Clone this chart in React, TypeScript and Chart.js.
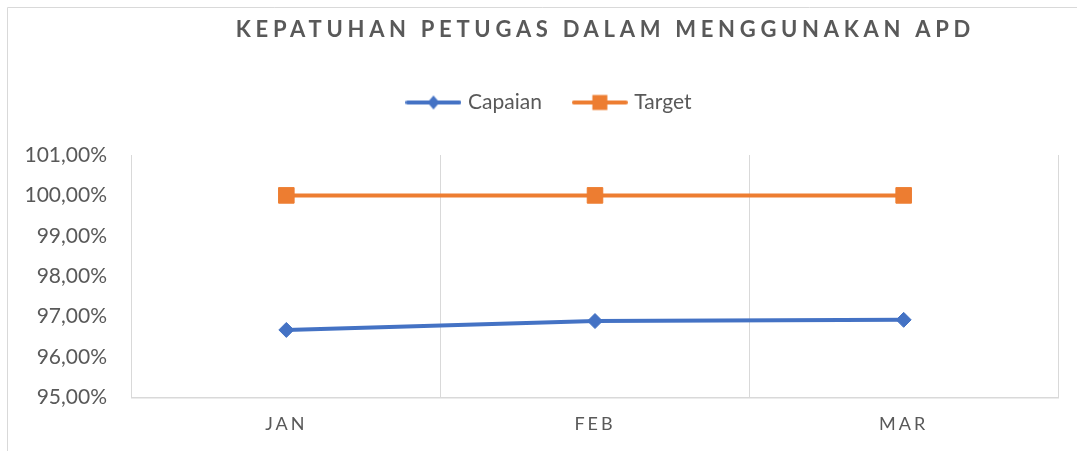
import React, { useEffect, useRef } from 'react';
import { Chart, registerables, CategoryScale } from 'chart.js';

Chart.register(...registerables);

class SpacedCategoryScale extends CategoryScale {
  static id = 'spacedCategory';
  drawLabels(area: any) {
    const ctx: any = this.ctx;
    ctx.save();
    ctx.letterSpacing = '3px';
    super.drawLabels(area);
    ctx.restore();
  }
}
Chart.register(SpacedCategoryScale as any);

const TITLE = 'KEPATUHAN PETUGAS DALAM MENGGUNAKAN APD';
const categories = ['JAN', 'FEB', 'MAR'];
const capaian = [96.67, 96.89, 96.92];
const target = [100, 100, 100];
const yMin = 95;
const yMax = 101;
const yStep = 1;

const FONT = "Lato, 'Open Sans', sans-serif";
const TEXT = '#595959';
const BLUE = '#4472C4';
const ORANGE = '#ED7D31';
const GRID = '#d9d9d9';

function makeIcon(color: string, shape: 'diamond' | 'square') {
  const c = document.createElement('canvas');
  c.width = 56;
  c.height = 20;
  const g = c.getContext('2d')!;
  g.strokeStyle = color;
  g.lineWidth = 4;
  g.lineCap = 'round';
  g.beginPath();
  g.moveTo(2, 10);
  g.lineTo(54, 10);
  g.stroke();
  g.fillStyle = color;
  g.beginPath();
  if (shape === 'diamond') {
    g.moveTo(28, 3);
    g.lineTo(34, 10);
    g.lineTo(28, 17);
    g.lineTo(22, 10);
    g.closePath();
  } else {
    g.rect(20.5, 2.5, 15, 15);
  }
  g.fill();
  return c;
}

const decorPlugin = {
  id: 'decor',
  afterLayout(chart: any) {
    if (chart.legend) {
      chart.legend.left = 43;
    }
  },
  afterDraw(chart: any) {
    const ctx = chart.ctx;
    ctx.save();
    ctx.strokeStyle = GRID;
    ctx.lineWidth = 1;
    ctx.beginPath();
    ctx.moveTo(7.5, 451);
    ctx.lineTo(7.5, 7.5);
    ctx.lineTo(1077, 7.5);
    ctx.stroke();
    ctx.font = `bold 22px ${FONT}`;
    ctx.letterSpacing = '4.7px';
    ctx.fillStyle = TEXT;
    ctx.textAlign = 'center';
    ctx.textBaseline = 'alphabetic';
    ctx.fillText(TITLE, 603 + 2.35, 37);
    ctx.restore();
  },
};

export default function App() {
  const ref = useRef<HTMLCanvasElement>(null);
  useEffect(() => {
    document.body.style.margin = '0';
    const icons = [makeIcon(BLUE, 'diamond'), makeIcon(ORANGE, 'square')];
    const chart = new Chart(ref.current!, {
      type: 'line',
      data: {
        labels: categories,
        datasets: [
          {
            label: 'Capaian',
            data: capaian,
            borderColor: BLUE,
            backgroundColor: BLUE,
            borderWidth: 4,
            borderCapStyle: 'round',
            borderJoinStyle: 'round',
            pointStyle: 'rectRot',
            pointRadius: 7.5,
            pointBorderWidth: 1,
            tension: 0,
          },
          {
            label: 'Target',
            data: target,
            borderColor: ORANGE,
            backgroundColor: ORANGE,
            borderWidth: 4,
            borderCapStyle: 'round',
            borderJoinStyle: 'round',
            pointStyle: 'rect',
            pointRadius: 11,
            pointBorderWidth: 1,
            tension: 0,
          },
        ],
      },
      options: {
        responsive: false,
        animation: false,
        layout: { padding: { top: 58, left: 0, right: 19, bottom: 0 } },
        plugins: {
          legend: {
            position: 'top',
            weight: 1000,
            labels: {
              usePointStyle: true,
              pointStyleWidth: 48,
              padding: 34,
              color: TEXT,
              font: { family: FONT, size: 21 },
              generateLabels: (ch: any) => {
                const items = (Chart.defaults.plugins.legend.labels as any).generateLabels(ch);
                return items.map((it: any, i: number) => ({ ...it, pointStyle: icons[i], fontColor: TEXT }));
              },
            },
          },
          subtitle: {
            display: true,
            text: '',
            position: 'top',
            weight: 500,
            font: { size: 1, lineHeight: 1 },
            padding: { top: 0, bottom: 31 },
          },
          title: { display: false },
          tooltip: { enabled: false },
        } as any,
        scales: {
          x: {
            type: 'spacedCategory' as any,
            offset: true,
            grid: { offset: true, color: GRID, drawTicks: false },
            border: { color: GRID, width: 1.5 },
            ticks: { color: TEXT, font: { family: FONT, size: 18 }, padding: 16 },
          },
          y: {
            min: yMin,
            max: yMax,
            grid: { display: false },
            border: { display: false },
            ticks: {
              stepSize: yStep,
              color: TEXT,
              font: { family: FONT, size: 21 },
              padding: 17,
              callback: (v: any) => Number(v).toFixed(2).replace('.', ',') + '%',
            },
            afterFit: (s: any) => {
              s.width = 132;
            },
          },
        } as any,
      },
      plugins: [decorPlugin],
    });
    return () => chart.destroy();
  }, []);
  return <canvas ref={ref} width={1077} height={451} style={{ display: 'block' }} />;
}
